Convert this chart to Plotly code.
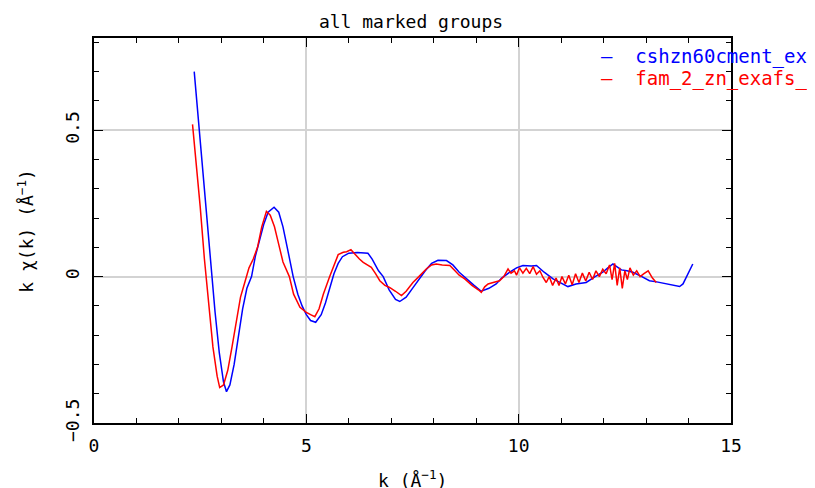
import plotly.graph_objects as go

# ---- data ----
blue_name = "cshzn60cment_exafs"
red_name = "fam_2_zn_exafs_1"

blue_k = [2.36, 2.45, 2.55, 2.65, 2.75, 2.85, 2.95, 3.05, 3.12, 3.2, 3.3, 3.4, 3.5, 3.6, 3.71,
          3.8, 3.9, 4.0, 4.1, 4.24, 4.35, 4.45, 4.55, 4.69, 4.8, 4.9, 5.0, 5.1, 5.22, 5.35,
          5.45, 5.55, 5.65, 5.75, 5.85, 6.0, 6.2, 6.45, 6.55, 6.7, 6.81, 6.95, 7.1, 7.2, 7.35,
          7.5, 7.65, 7.8, 7.95, 8.1, 8.3, 8.45, 8.6, 8.77, 8.95, 9.12, 9.3, 9.47, 9.6, 9.79,
          9.95, 10.1, 10.3, 10.42, 10.6, 10.81, 11.0, 11.16, 11.35, 11.59, 11.8, 11.98, 12.1,
          12.22, 12.3, 12.42, 12.55, 12.69, 12.9, 13.08, 13.25, 13.4, 13.6, 13.79, 13.87,
          13.95, 14.1]
blue_y = [0.70, 0.55, 0.38, 0.20, 0.03, -0.12, -0.26, -0.36, -0.393, -0.37, -0.30, -0.20,
          -0.11, -0.04, 0.0, 0.07, 0.13, 0.18, 0.22, 0.237, 0.22, 0.17, 0.10, 0.0, -0.06,
          -0.10, -0.13, -0.15, -0.156, -0.13, -0.09, -0.04, 0.01, 0.045, 0.068, 0.08, 0.082,
          0.08, 0.06, 0.02, 0.0, -0.045, -0.078, -0.085, -0.07, -0.04, -0.01, 0.02, 0.045,
          0.056, 0.055, 0.04, 0.015, -0.008, -0.03, -0.05, -0.04, -0.025, -0.005, 0.015,
          0.03, 0.038, 0.036, 0.038, 0.015, -0.008, -0.022, -0.034, -0.025, -0.02, 0.0,
          0.015, 0.03, 0.043, 0.035, 0.023, 0.02, 0.015, 0.0, -0.014, -0.018, -0.023,
          -0.028, -0.034, -0.025, 0.0, 0.043]

red_k = [2.32, 2.4, 2.5, 2.6, 2.7, 2.8, 2.9, 2.96, 3.05, 3.15, 3.25, 3.35, 3.45, 3.55, 3.65,
         3.75, 3.85, 3.95, 4.06, 4.15, 4.25, 4.35, 4.45, 4.6, 4.7, 4.85, 5.0, 5.1, 5.2, 5.3,
         5.4, 5.55, 5.65, 5.75, 5.87, 5.95, 6.05, 6.15, 6.25, 6.34, 6.45, 6.53, 6.63, 6.73,
         6.85, 6.96, 7.1, 7.24, 7.35, 7.51, 7.65, 7.83, 7.95, 8.06, 8.2, 8.38, 8.5, 8.6,
         8.73, 8.9, 9.05, 9.12, 9.2, 9.28, 9.4, 9.55, 9.65, 9.75, 9.82, 9.9, 9.95, 10.02,
         10.1, 10.18, 10.26, 10.34, 10.42, 10.5, 10.57, 10.65, 10.72, 10.8, 10.88, 10.95,
         11.02, 11.1, 11.18, 11.26, 11.34, 11.42, 11.5, 11.58, 11.66, 11.74, 11.82, 11.9,
         11.98, 12.06, 12.14, 12.2, 12.26, 12.32, 12.38, 12.44, 12.5, 12.56, 12.62, 12.7,
         12.78, 12.86, 12.95, 13.05, 13.15, 13.24]
red_y = [0.52, 0.40, 0.24, 0.06, -0.10, -0.24, -0.34, -0.379, -0.37, -0.32, -0.24, -0.15,
         -0.07, -0.02, 0.03, 0.06, 0.10, 0.17, 0.223, 0.21, 0.17, 0.11, 0.05, 0.0, -0.06,
         -0.105, -0.122, -0.13, -0.137, -0.11, -0.06, 0.0, 0.04, 0.075, 0.083, 0.085, 0.092,
         0.075, 0.06, 0.049, 0.04, 0.032, 0.01, -0.014, -0.03, -0.037, -0.05, -0.065, -0.05,
         -0.02, 0.0, 0.027, 0.04, 0.043, 0.04, 0.038, 0.02, 0.005, -0.008, -0.03, -0.045,
         -0.054, -0.035, -0.025, -0.02, -0.014, 0.0, 0.026, 0.012, 0.02, 0.005, 0.03, 0.012,
         0.028, 0.01, 0.034, 0.008, 0.02, -0.002, -0.02, 0.0, -0.03, -0.005, -0.03, 0.0,
         -0.025, 0.005, -0.028, 0.01, -0.02, 0.012, -0.015, 0.015, -0.01, 0.02, 0.0, 0.025,
         0.01, 0.04, -0.01, 0.045, -0.03, 0.03, -0.04, 0.02, -0.01, 0.03, 0.005, 0.02, 0.0,
         0.01, 0.02, -0.005, -0.02]

title_text = "all marked groups"
x_title = "k (Å<sup>−1</sup>)"
y_title = "k χ(k) (Å<sup>−1</sup>)"
x_ticks = [0, 5, 10, 15]
y_ticks = [-0.5, 0, 0.5]

FONT = "DejaVu Sans Mono"
BLUE = "#0000ff"
RED = "#ff0000"

fig = go.Figure()
fig.add_trace(go.Scatter(x=blue_k, y=blue_y, mode="lines",
                         line=dict(color=BLUE, width=1.5), name=blue_name, showlegend=False))
fig.add_trace(go.Scatter(x=red_k, y=red_y, mode="lines",
                         line=dict(color=RED, width=1.5), name=red_name, showlegend=False))

axis_common = dict(
    showline=True, linecolor="black", linewidth=1.5, mirror="allticks",
    ticks="inside", ticklen=9, tickcolor="black", tickwidth=1,
    showgrid=True, gridcolor="#d3d3d3", gridwidth=2,
    zeroline=False, automargin=False,
    tickfont=dict(family=FONT, size=18, color="black"),
)

annotations = []
# legend drawn as text entries (short dash + name), placed at top right like the reference
legend_entries = [(blue_name, BLUE, 0.953), (red_name, RED, 0.894)]
for name, color, ypos in legend_entries:
    annotations.append(dict(
        text="—  " + name, x=0.793, y=ypos, xref="paper", yref="paper",
        xanchor="left", yanchor="middle", showarrow=False,
        font=dict(family=FONT, size=19, color=color)))
# axis titles
annotations.append(dict(text=x_title, x=0.5, y=-0.1455, xref="paper", yref="paper",
                        xanchor="center", yanchor="middle", showarrow=False,
                        font=dict(family=FONT, size=18, color="black")))
annotations.append(dict(text=y_title, x=-0.108, y=0.5, xref="paper", yref="paper",
                        xanchor="center", yanchor="middle", showarrow=False, textangle=-90,
                        font=dict(family=FONT, size=18, color="black")))

fig.update_layout(
    width=815, height=488,
    margin=dict(l=86, r=92, t=30, b=73),
    paper_bgcolor="white", plot_bgcolor="white",
    title=dict(text=title_text, x=0.4945, xanchor="center", y=0.971, yanchor="middle",
               font=dict(family=FONT, size=18, color="black")),
    xaxis=dict(range=[0, 15], tickvals=x_ticks, **axis_common, ticklabelstandoff=6,
               minor=dict(dtick=1, ticks="inside", ticklen=5, tickcolor="black", showgrid=False)),
    yaxis=dict(range=[-0.5, 0.815], tickvals=y_ticks, tickangle=-90, **axis_common,
               ticklabelstandoff=6,
               minor=dict(dtick=0.1, tick0=0, ticks="inside", ticklen=5, tickcolor="black", showgrid=False)),
    annotations=annotations,
    showlegend=False,
)

fig.write_html("out.html")
